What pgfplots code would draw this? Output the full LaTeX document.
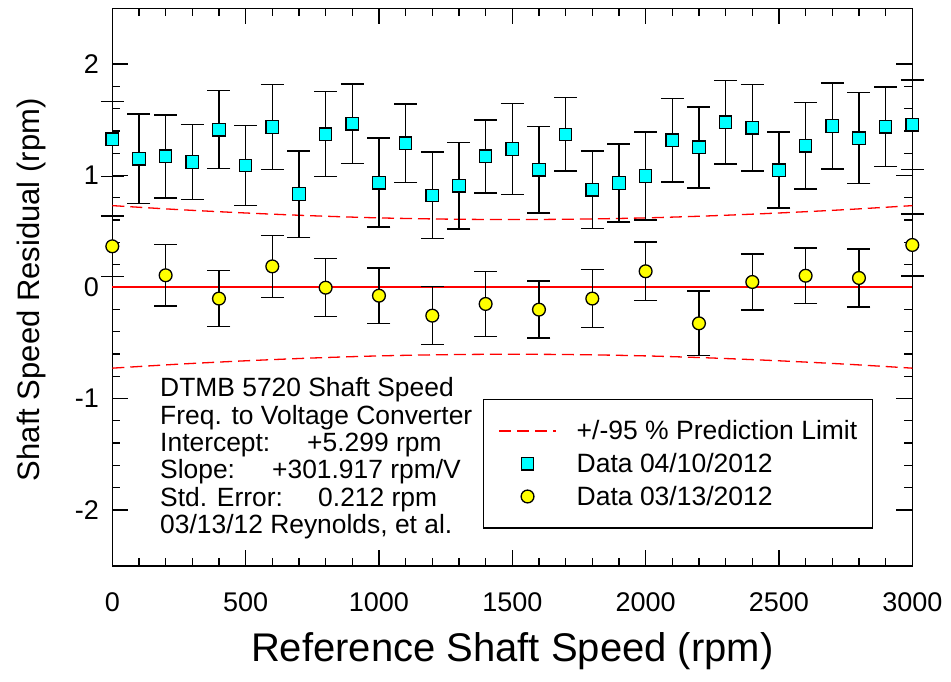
\documentclass[border=0pt]{standalone}
\usepackage{fontspec}
\setmainfont{Liberation Sans}
\usepackage{pgfplots}
\usepackage{pgfplotstable}
\pgfplotsset{compat=1.18}
\definecolor{sqcyan}{RGB}{0,255,255}
\definecolor{dotyellow}{RGB}{255,255,0}

% data 04/10/2012 (squares)
\pgfplotstableread{
x y e
0 1.327 0.335
100 1.151 0.400
200 1.172 0.372
300 1.121 0.335
400 1.411 0.350
500 1.091 0.358
600 1.435 0.381
700 0.834 0.388
800 1.372 0.382
900 1.465 0.357
1000 0.936 0.399
1100 1.289 0.352
1200 0.822 0.389
1300 0.909 0.389
1400 1.172 0.328
1500 1.238 0.409
1600 1.052 0.387
1700 1.369 0.329
1800 0.873 0.347
1900 0.933 0.350
2000 0.996 0.394
2100 1.316 0.376
2200 1.253 0.363
2300 1.477 0.375
2400 1.429 0.387
2500 1.049 0.341
2600 1.267 0.387
2700 1.444 0.386
2800 1.336 0.408
2900 1.438 0.356
3000 1.456 0.400
}\sqdata

% data 03/13/2012 (circles)
\pgfplotstableread{
x y e
0 0.365 0.270
200 0.105 0.275
400 -0.104 0.250
600 0.185 0.277
800 -0.006 0.260
1000 -0.078 0.250
1200 -0.257 0.260
1400 -0.152 0.290
1600 -0.203 0.255
1800 -0.104 0.260
2000 0.141 0.262
2200 -0.326 0.290
2400 0.045 0.250
2600 0.101 0.250
2800 0.081 0.260
3000 0.377 0.280
}\circdata

% prediction limits
\pgfplotstableread{
x up lo
0 0.730 -0.728
250 0.694 -0.692
500 0.664 -0.662
750 0.639 -0.637
1000 0.620 -0.618
1250 0.609 -0.607
1500 0.605 -0.603
1750 0.609 -0.607
2000 0.620 -0.618
2250 0.639 -0.637
2500 0.664 -0.662
2750 0.694 -0.692
3000 0.730 -0.728
}\limdata

\begin{document}
\begin{tikzpicture}
\useasboundingbox (0,0) rectangle (951pt,681pt);
\begin{axis}[
    at={(112.3pt,115.3pt)}, anchor=south west,
    width=800pt, height=557.4pt, scale only axis,
    xmin=0, xmax=3000, ymin=-2.5, ymax=2.5,
    xtick={0,500,1000,1500,2000,2500,3000},
    xticklabels={0,500,1000,1500,2000,2500,3000},
    ytick={-2,-1,0,1,2},
    yticklabels={-2,-1,0,1,2},
    minor x tick num=4, minor y tick num=4,
    tick align=inside, xtick pos=both, ytick pos=both,
    major tick length=16pt, minor tick length=8pt,
    axis line style={line width=1.6pt},
    every tick/.style={black, line width=1.3pt},
    tick label style={font=\fontsize{27}{27}\selectfont},
    xticklabel style={yshift=-23pt},
    yticklabel style={xshift=-10pt},
    xlabel={Reference Shaft Speed (rpm)},
    ylabel={Shaft Speed Residual (rpm)},
    xlabel style={font=\fontsize{40}{40}\selectfont, at={(axis description cs:0.5,-0.153)}, anchor=center},
    ylabel style={font=\fontsize{31}{31}\selectfont, at={(axis description cs:-0.101,0.495)}, anchor=center},
    clip=false,
    legend cell align=left,
    legend image code/.code={\draw[mark repeat=2, mark phase=2, #1] plot coordinates {(0pt,0pt) (28.5pt,0pt) (57pt,0pt)};},
    legend style={at={(axis description cs:0.463,0.299)}, anchor=north west,
        draw=black, line width=1.4pt,
        font=\fontsize{26.5}{26.5}\selectfont,
        inner xsep=15pt, inner ysep=21pt, row sep=12pt, column sep=20pt,
        nodes={inner sep=0pt}},
]
\addplot[red, line width=1.3pt, dash pattern=on 12pt off 6pt, smooth] table[x=x, y=up] {\limdata};
\addlegendentry{+/-95 \% Prediction Limit}
\addplot[red, line width=1.3pt, dash pattern=on 12pt off 6pt, smooth, forget plot] table[x=x, y=lo] {\limdata};
\addplot[red, line width=1.5pt, forget plot] coordinates {(0,0) (3000,0)};

\addplot[black, only marks, mark=square*, mark size=6.2pt,
    mark options={fill=sqcyan, line width=1.3pt},
    error bars/.cd, y dir=both, y explicit,
    error bar style={line width=1.5pt},
    error mark options={rotate=90, mark size=11.5pt, line width=1.5pt}]
    table[x=x, y=y, y error=e] {\sqdata};
\addlegendentry{Data 04/10/2012}

\addplot[black, only marks, mark=*, mark size=6.4pt,
    mark options={fill=dotyellow, line width=1.3pt},
    error bars/.cd, y dir=both, y explicit,
    error bar style={line width=1.5pt},
    error mark options={rotate=90, mark size=11.5pt, line width=1.5pt}]
    table[x=x, y=y, y error=e] {\circdata};
\addlegendentry{Data 03/13/2012}

\node[anchor=north west, align=left, inner sep=0pt,
    font=\fontsize{26.4}{27.3}\selectfont] at (axis cs:179,-0.813)
    {DTMB 5720 Shaft Speed\\
     Freq. to Voltage Converter\\
     \makebox[147pt][l]{Intercept:}+5.299 rpm\\
     \makebox[112pt][l]{Slope:}+301.917 rpm/V\\
     \makebox[158pt][l]{Std. Error:}0.212 rpm\\
     03/13/12 Reynolds, et al.};
\end{axis}
\end{tikzpicture}
\end{document}
